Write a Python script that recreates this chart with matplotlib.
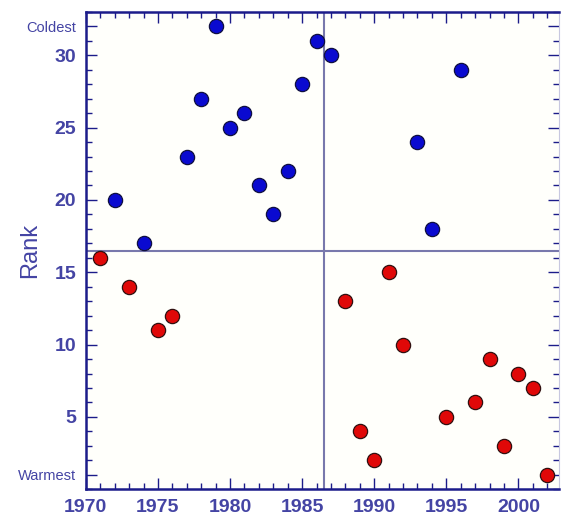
import numpy as np
import matplotlib.pyplot as plt
from matplotlib.ticker import MultipleLocator

# 연도별 순위 데이터 (1 = 가장 따뜻함, 32 = 가장 추움)
cold_years = [1972, 1974, 1977, 1978, 1979, 1980, 1981, 1982, 1983, 1984,
              1985, 1986, 1987, 1993, 1994, 1996]
cold_rank = [20, 17, 23, 27, 32, 25, 26, 21, 19, 22, 28, 31, 30, 24, 18, 29]

warm_years = [1971, 1973, 1975, 1976, 1988, 1989, 1990, 1991, 1992, 1995,
              1997, 1998, 1999, 2000, 2001, 2002]
warm_rank = [16, 14, 11, 12, 13, 4, 2, 15, 10, 5, 6, 9, 3, 8, 7, 1]

median_year = 1986.5
median_rank = 16.5

ytick_vals = [1, 5, 10, 15, 20, 25, 30, 32]
ytick_labels = ['Warmest', '5', '10', '15', '20', '25', '30', 'Coldest']
xtick_vals = [1970, 1975, 1980, 1985, 1990, 1995, 2000]

plt.rcParams['font.family'] = ['Liberation Sans', 'DejaVu Sans']

navy = '#1c1c8a'
label_col = '#4444a4'

fig = plt.figure(figsize=(5.61, 5.15), dpi=100)
ax = fig.add_axes([0.153, 0.05, 0.843, 0.927])
ax.set_facecolor('#fffffb')

# 중앙값 기준선
ax.axvline(median_year, color='#7878ac', lw=1.5, zorder=1)
ax.axhline(median_rank, color='#7878ac', lw=1.5, zorder=1)

ax.scatter(cold_years, cold_rank, s=105, color='#0a0ad0', edgecolors='#101040',
           linewidths=0.9, zorder=3)
ax.scatter(warm_years, warm_rank, s=105, color='#e00808', edgecolors='#301010',
           linewidths=0.9, zorder=3)

ax.set_xlim(1970, 2002.8)
ax.set_ylim(0, 33)

ax.set_xticks(xtick_vals)
ax.set_yticks(ytick_vals)
ax.set_yticklabels(ytick_labels)
ax.xaxis.set_minor_locator(MultipleLocator(1))
ax.yaxis.set_minor_locator(MultipleLocator(1))

ax.tick_params(which='both', direction='in', top=True, right=True, color=navy)
ax.tick_params(which='major', length=8, width=1, labelsize=14, labelcolor=label_col, pad=7)
ax.tick_params(which='minor', length=4, width=1)

for lab in ax.get_xticklabels() + ax.get_yticklabels():
    lab.set_fontweight('bold')
    if lab.get_text() in ('Warmest', 'Coldest'):
        lab.set_fontsize(10.5)
        lab.set_fontweight('normal')

for side in ['left', 'bottom', 'top']:
    ax.spines[side].set_color(navy)
    ax.spines[side].set_linewidth(1.8)
ax.spines['right'].set_color('#c8c8e0')
ax.spines['right'].set_linewidth(0.8)

ax.set_ylabel('Rank', fontsize=17, color=label_col)
ax.yaxis.set_label_coords(-0.095, 0.5)

fig.savefig('out.png', dpi=100)
